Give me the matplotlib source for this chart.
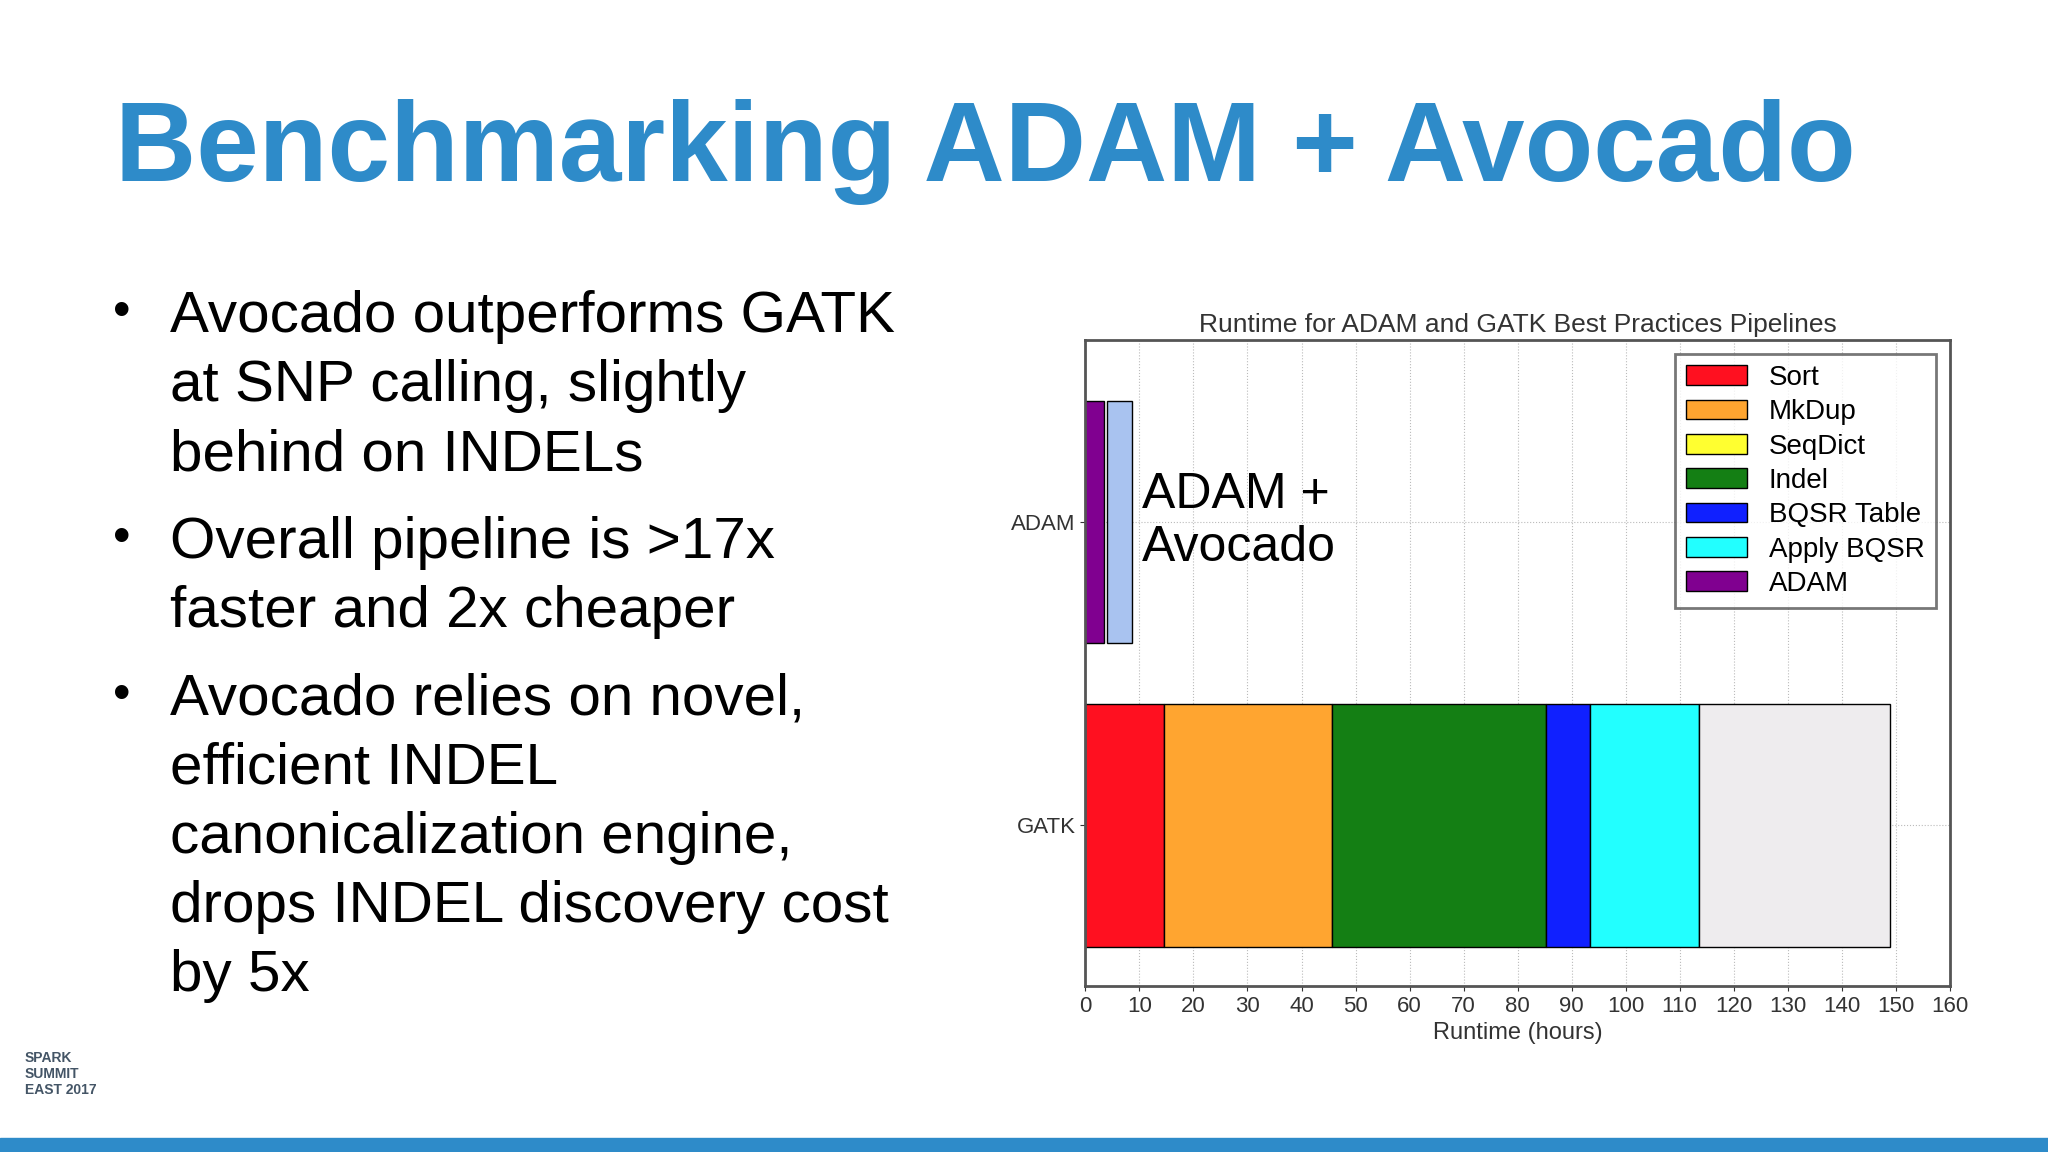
import matplotlib
matplotlib.use("Agg")
import matplotlib.pyplot as plt
from matplotlib.patches import Patch

plt.rcParams['font.family'] = ['Liberation Sans', 'DejaVu Sans']

title = "Benchmarking ADAM + Avocado"
bullets = [
    "Avocado outperforms GATK\nat SNP calling, slightly\nbehind on INDELs",
    "Overall pipeline is >17x\nfaster and 2x cheaper",
    "Avocado relies on novel,\nefficient INDEL\ncanonicalization engine,\ndrops INDEL discovery cost\nby 5x",
]
stages = ["Sort", "MkDup", "SeqDict", "Indel", "BQSR Table", "Apply BQSR", "ADAM"]
stage_colors = ["#ff1020", "#ffa530", "#ffff30", "#147f14", "#1020ff", "#22ffff", "#800090"]
gatk_segments = ["Sort", "MkDup", "Indel", "BQSR Table", "Apply BQSR", "Other"]
gatk_widths = [14.5, 31.2, 39.6, 8.2, 20.0, 35.5]
adam_segments = ["ADAM", "Avocado"]
adam_lefts = [0.0, 3.9]
adam_widths = [3.4, 4.8]
xticks = list(range(0, 161, 10))

color_map = dict(zip(stages, stage_colors))
color_map["Other"] = "#eeecee"
color_map["Avocado"] = "#a9c3f0"

fig = plt.figure(figsize=(20.48, 11.52), dpi=100)
fig.patch.set_facecolor("white")
fig.text(0.056, 0.868, title, fontsize=81, fontweight="bold", color="#2e8bc9", va="center")

ys = [0.748, 0.552, 0.416]
for y, b in zip(ys, bullets):
    fig.text(0.055, y, "•", fontsize=36, va="top")
    fig.text(0.083, y, b, fontsize=42, va="top", linespacing=1.36)

fig.patches.append(plt.Rectangle((0, 0), 1, 0.012, transform=fig.transFigure, color="#2e8bc9"))

ax = fig.add_axes([0.530, 0.144, 0.422, 0.561])
ax.barh([1]*len(adam_widths), adam_widths, left=adam_lefts, height=0.8,
        color=[color_map[s] for s in adam_segments], edgecolor="black", linewidth=1)
left = 0
for s, w in zip(gatk_segments, gatk_widths):
    ax.barh(0, w, left=left, height=0.8, color=color_map[s], edgecolor="black", linewidth=1)
    left += w
ax.set_xlim(0, 160)
ax.set_ylim(-0.53, 1.6)
ax.set_xticks(xticks)
ax.set_yticks([1, 0])
ax.set_yticklabels(["ADAM", "GATK"])
ax.tick_params(labelsize=16, colors="#333333")
ax.grid(True, linestyle=":", color="#bbbbbb")
ax.set_axisbelow(True)
ax.set_xlabel("Runtime (hours)", fontsize=17, color="#333333")
ax.set_title("Runtime for ADAM and GATK Best Practices Pipelines", fontsize=19, color="#333333")
for sp in ax.spines.values():
    sp.set_color("#555555"); sp.set_linewidth(2)
ax.text(10.5, 1.0, "ADAM +\nAvocado", fontsize=36, va="center", ha="left")
handles = [Patch(facecolor=c, edgecolor="black") for c in stage_colors]
leg = ax.legend(handles, stages, loc="upper right", fontsize=20, fancybox=False,
                handlelength=2.2, borderpad=0.4, labelspacing=0.3)
leg.get_frame().set_edgecolor("#555555"); leg.get_frame().set_linewidth(2)

fig.text(0.012, 0.05, "SPARK\nSUMMIT\nEAST 2017", fontsize=10, fontweight="bold", color="#445566")
fig.savefig("out.png", dpi=100)
